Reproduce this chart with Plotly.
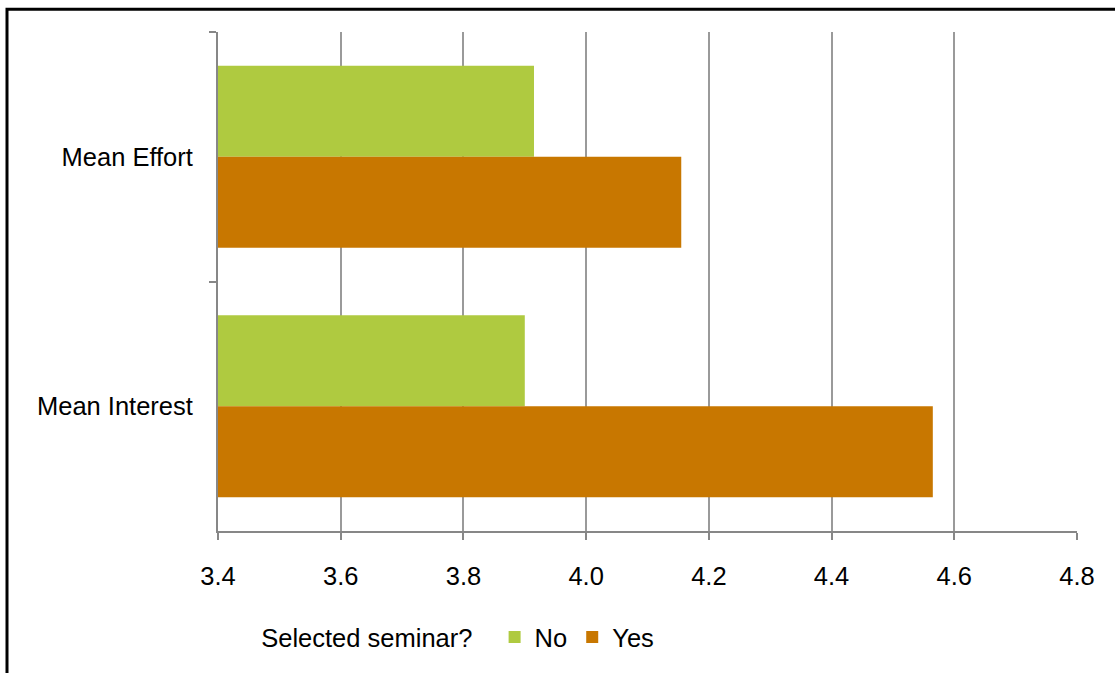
import plotly.graph_objects as go

# Categories (top to bottom) and group means
measures = ["Mean Effort", "Mean Interest"]
no_values = [3.915, 3.90]
yes_values = [4.155, 4.565]
series_names = ["No", "Yes"]
series_colors = ["#AFCA40", "#C87700"]
x_ticks = [3.4, 3.6, 3.8, 4.0, 4.2, 4.4, 4.6, 4.8]
x_tick_labels = ["3.4", "3.6", "3.8", "4.0", "4.2", "4.4", "4.6", "4.8"]
legend_title = "Selected seminar?"

W, H = 1115, 673
ML, MR, MT, MB = 218, 38, 32, 139
PW, PH = W - ML - MR, H - MT - MB

FONT = "Liberation Sans, Arial, sans-serif"
FS = 25.5
AXIS_GRAY = "#878787"
GRID_GRAY = "#9a9a9a"

fig = go.Figure()
for name, vals, col in zip(series_names, [no_values, yes_values], series_colors):
    fig.add_trace(go.Bar(
        y=measures, x=vals, name=name, orientation="h",
        marker=dict(color=col, line=dict(width=0)),
        base=0,
    ))

def px_to_paper_x(px):
    return (px - ML) / PW

def px_to_paper_y(py):
    return 1 - (py - MT) / PH

# Outer frame: left and top edges of the bordered figure box
fx, fy = px_to_paper_x(7), px_to_paper_y(9)
fig.add_shape(type="path", xref="paper", yref="paper",
              path=f"M {fx} {px_to_paper_y(700)} L {fx} {fy} L {px_to_paper_x(1130)} {fy}",
              line=dict(color="black", width=3), layer="above")

fig.update_layout(
    width=W, height=H,
    margin=dict(l=ML, r=MR, t=MT, b=MB, pad=0),
    paper_bgcolor="white", plot_bgcolor="white",
    barmode="group", bargap=0.27, bargroupgap=0,
    font=dict(family=FONT, size=FS, color="black"),
    showlegend=True,
    legend=dict(
        orientation="h", x=0.048, xanchor="left", y=px_to_paper_y(641), yanchor="middle",
        title=dict(text=legend_title + "  ", font=dict(size=FS, family=FONT)),
        font=dict(size=FS, family=FONT), itemsizing="constant",
        bgcolor="rgba(0,0,0,0)", tracegroupgap=0,
    ),
    xaxis=dict(
        range=[3.4, 4.8], tickvals=x_ticks, ticktext=x_tick_labels,
        showgrid=True, gridcolor=GRID_GRAY, gridwidth=2,
        showline=True, linecolor=AXIS_GRAY, linewidth=2,
        ticks="outside", ticklen=7, tickcolor=AXIS_GRAY, tickwidth=2,
        ticklabelstandoff=14, zeroline=False,
        tickfont=dict(size=FS, family=FONT, color="black"),
    ),
    yaxis=dict(
        categoryorder="array", categoryarray=measures, autorange="reversed",
        showgrid=False, showline=True, linecolor=AXIS_GRAY, linewidth=2,
        ticks="outside", tickson="boundaries", ticklen=7, tickcolor=AXIS_GRAY, tickwidth=2,
        ticklabelstandoff=18, zeroline=False,
        tickfont=dict(size=FS, family=FONT, color="black"),
    ),
)

fig.write_html("out.html")
